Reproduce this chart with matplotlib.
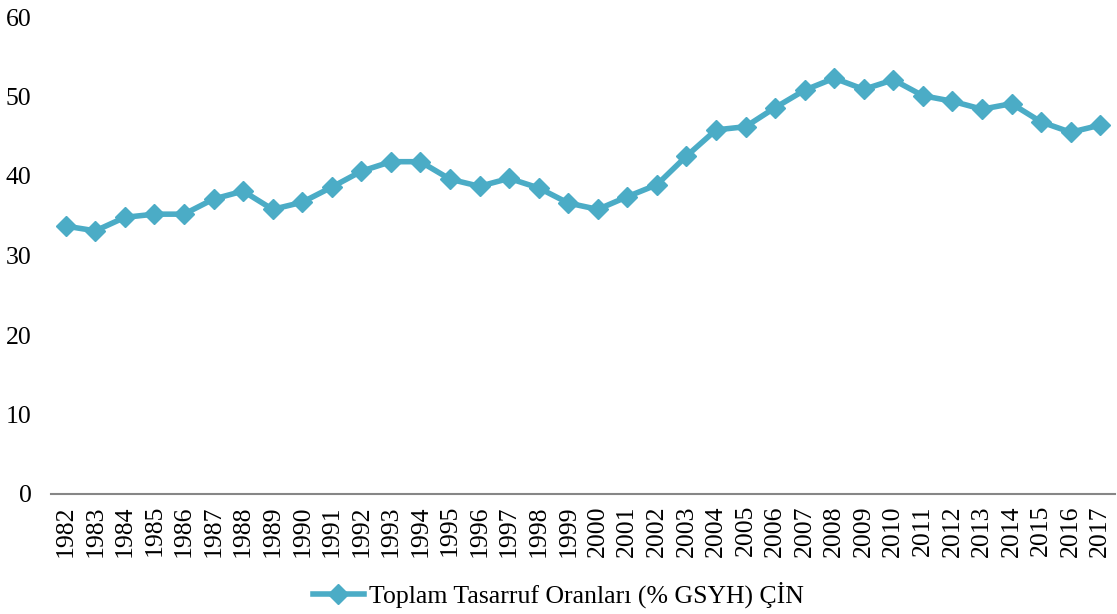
import matplotlib.pyplot as plt

plt.rcParams['font.family'] = ['Liberation Serif', 'DejaVu Serif']

years = [str(y) for y in range(1982, 2018)]
savings = [33.7, 33.1, 34.8, 35.2, 35.2, 37.1, 38.1, 35.8, 36.7, 38.6,
           40.6, 41.8, 41.8, 39.6, 38.7, 39.7, 38.5, 36.6, 35.8, 37.4,
           38.9, 42.5, 45.8, 46.2, 48.6, 50.8, 52.3, 50.9, 52.1, 50.1,
           49.4, 48.4, 49.1, 46.8, 45.5, 46.4]
label = "Toplam Tasarruf Oranları (% GSYH) ÇİN"

fig = plt.figure(figsize=(11.17, 6.14), dpi=100)
ax = fig.add_axes([51/1117, 1 - 494/614, (1115 - 51)/1117, (494 - 17)/614])

x = range(len(years))
ax.plot(x, savings, color="#4BACC6", linewidth=4, marker="D",
        markersize=10.5, label=label)

ax.set_xlim(-0.5, len(years) - 0.5)
ax.set_ylim(0, 60)
ax.set_yticks(range(0, 61, 10))
ax.set_xticks(list(x))
ax.set_xticklabels(years, rotation=90)
ax.tick_params(axis="both", length=0, labelsize=18.5)
ax.tick_params(axis="y", pad=14)
ax.tick_params(axis="x", pad=8)

for side in ["left", "right", "top"]:
    ax.spines[side].set_visible(False)
ax.spines["bottom"].set_color("#868686")
ax.spines["bottom"].set_linewidth(1.5)

fig.legend(loc="lower center", bbox_to_anchor=(0.5, -0.028), frameon=False,
           fontsize=18.5, handlelength=2.0, handletextpad=0.2)

fig.savefig("out.png", dpi=100)
